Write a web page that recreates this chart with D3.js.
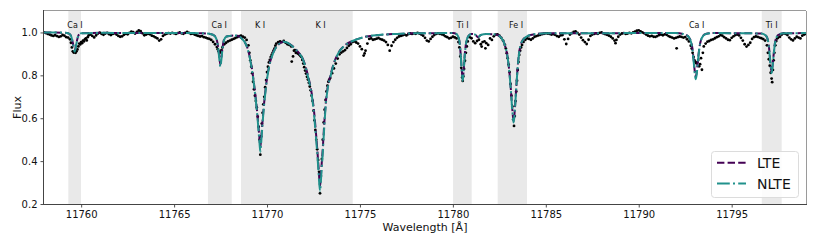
<!DOCTYPE html>
<html><head><meta charset="utf-8">
<script src="https://cdn.jsdelivr.net/npm/d3@7"></script>
<style>
body{margin:0;background:#fff;}
svg{display:block;font-family:"DejaVu Sans",sans-serif;}
</style></head>
<body><svg id="c" width="817" height="245"></svg>
<script>
// ---- data ----
const xTicks = [11760, 11765, 11770, 11775, 11780, 11785, 11790, 11795];
const yTicks = [0.2, 0.4, 0.6, 0.8, 1.0];
const spanStart = [11759.31, 11766.82, 11768.60, 11780.01, 11782.41, 11796.62];
const spanEnd   = [11759.99, 11768.10, 11774.61, 11781.01, 11783.99, 11797.69];
const lineLabels  = ["Ca I", "Ca I", "K I", "K I", "Ti I", "Fe I", "Ca I", "Ti I"];
const lineCenters = [11759.67, 11767.43, 11769.63, 11772.88, 11780.53, 11783.40, 11793.12, 11797.15];

const observed = [
[11758.0,1.000],[11758.1,0.997],[11758.2,0.993],[11758.3,0.990],[11758.4,0.986],[11758.5,0.984],[11758.6,0.987],[11758.7,0.983],[11758.8,0.979],[11758.9,0.982],
[11759.0,0.988],[11759.1,0.985],[11759.2,0.978],[11759.3,0.976],[11759.4,0.968],[11759.45,0.952],[11759.5,0.930],[11759.55,0.912],[11759.6,0.906],[11759.65,0.909],
[11759.7,0.905],[11759.75,0.912],[11759.8,0.921],[11759.85,0.935],[11759.9,0.948],[11759.95,0.944],[11760.0,0.955],[11760.05,0.950],[11760.1,0.962],[11760.15,0.958],
[11760.2,0.968],[11760.25,0.972],[11760.3,0.963],[11760.35,0.978],[11760.4,0.986],[11760.5,0.990],
[11760.6,0.984],[11760.7,0.977],[11760.8,0.986],[11760.9,0.995],[11761.0,0.999],[11761.1,0.993],[11761.2,0.989],[11761.3,0.995],[11761.4,0.998],[11761.5,0.992],
[11761.6,0.988],[11761.7,0.993],[11761.8,0.996],[11761.9,0.990],[11762.0,0.984],[11762.1,0.980],[11762.2,0.982],[11762.3,0.989],[11762.4,0.994],[11762.5,0.991],
[11762.6,0.998],[11762.7,1.004],[11762.8,1.001],[11762.9,0.995],[11763.0,1.003],[11763.1,1.009],[11763.2,1.006],[11763.3,0.996],[11763.4,0.987],[11763.5,0.990],
[11763.6,0.994],[11763.7,0.991],[11763.8,0.985],[11763.9,0.982],[11764.0,0.977],[11764.1,0.972],[11764.2,0.962],[11764.3,0.968],[11764.4,0.984],[11764.5,0.990],
[11764.6,0.994],[11764.7,0.997],[11764.8,0.995],[11764.9,0.998],[11765.0,0.996],[11765.1,0.993],[11765.2,0.997],[11765.3,1.000],[11765.4,0.996],[11765.5,0.994],
[11765.6,0.998],[11765.7,1.002],[11765.8,0.998],[11765.9,0.993],[11766.0,0.995],[11766.1,0.990],[11766.2,0.987],[11766.3,0.984],[11766.4,0.981],[11766.5,0.983],
[11766.6,0.978],[11766.7,0.976],[11766.8,0.972],[11766.9,0.970],[11767.0,0.965],[11767.1,0.956],[11767.2,0.945],[11767.3,0.932],[11767.35,0.922],[11767.4,0.912],
[11767.45,0.905],[11767.5,0.910],[11767.55,0.918],[11767.6,0.930],[11767.7,0.945],[11767.8,0.952],[11767.9,0.958],[11768.0,0.962],[11768.1,0.966],[11768.2,0.970],
[11768.3,0.974],[11768.4,0.978],[11768.5,0.983],[11768.6,0.985],[11768.7,0.980],[11768.8,0.976],[11768.9,0.965],
[11769.0,0.940],[11769.05,0.905],[11769.1,0.870],[11769.15,0.840],[11769.2,0.810],[11769.25,0.770],[11769.3,0.735],[11769.35,0.705],[11769.4,0.680],[11769.45,0.650],
[11769.5,0.607],[11769.55,0.560],[11769.6,0.500],[11769.64,0.430],[11769.68,0.515],[11769.72,0.575],[11769.76,0.625],[11769.8,0.665],[11769.85,0.700],[11769.9,0.745],
[11769.95,0.778],[11770.0,0.815],[11770.05,0.840],[11770.1,0.860],[11770.15,0.872],[11770.2,0.885],[11770.25,0.895],[11770.3,0.905],[11770.35,0.915],[11770.4,0.925],
[11770.45,0.938],[11770.5,0.948],[11770.6,0.955],[11770.7,0.958],[11770.8,0.955],[11770.9,0.960],[11771.0,0.952],[11771.1,0.945],[11771.2,0.942],[11771.3,0.935],
[11771.33,0.864],[11771.4,0.888],[11771.45,0.915],[11771.5,0.918],[11771.55,0.905],[11771.6,0.910],[11771.65,0.902],[11771.7,0.900],[11771.75,0.895],[11771.8,0.890],
[11771.85,0.886],[11771.9,0.872],[11771.95,0.855],[11772.0,0.838],[11772.05,0.822],[11772.1,0.808],[11772.15,0.793],[11772.2,0.780],[11772.25,0.765],[11772.3,0.748],
[11772.35,0.730],[11772.4,0.705],[11772.45,0.680],[11772.5,0.635],[11772.55,0.590],[11772.6,0.545],[11772.65,0.500],[11772.7,0.455],[11772.75,0.405],[11772.8,0.350],
[11772.85,0.250],[11772.9,0.330],[11772.95,0.410],[11773.0,0.500],[11773.05,0.580],[11773.1,0.640],[11773.15,0.685],[11773.2,0.725],[11773.25,0.752],[11773.3,0.770],
[11773.35,0.780],[11773.4,0.788],[11773.5,0.810],[11773.6,0.832],[11773.7,0.855],[11773.8,0.878],[11773.9,0.898],[11774.0,0.906],[11774.1,0.912],[11774.2,0.918],
[11774.3,0.928],[11774.4,0.938],[11774.5,0.945],[11774.6,0.955],[11774.7,0.958],[11774.8,0.953],[11774.9,0.948],[11775.0,0.935],[11775.1,0.922],[11775.2,0.892],
[11775.25,0.902],[11775.3,0.915],[11775.4,0.948],[11775.5,0.970],[11775.6,0.972],[11775.7,0.966],[11775.8,0.968],[11775.9,0.971],[11776.0,0.974],[11776.1,0.969],
[11776.2,0.966],[11776.3,0.962],[11776.4,0.955],[11776.5,0.942],[11776.6,0.915],[11776.7,0.938],[11776.8,0.955],[11776.9,0.966],[11777.0,0.975],[11777.1,0.981],
[11777.2,0.984],[11777.3,0.987],[11777.4,0.990],[11777.5,0.986],[11777.6,0.992],[11777.7,0.995],[11777.8,0.993],[11777.9,0.996],[11778.0,0.994],[11778.1,0.998],
[11778.2,0.995],[11778.3,0.990],[11778.4,0.985],[11778.5,0.975],[11778.6,0.962],[11778.7,0.958],[11778.8,0.970],[11778.9,0.980],[11779.0,0.988],[11779.1,0.993],
[11779.2,0.996],[11779.3,0.994],[11779.4,0.991],[11779.5,0.988],[11779.6,0.982],[11779.7,0.978],[11779.8,0.972],[11779.9,0.975],[11780.0,0.980],[11780.1,0.977],
[11780.2,0.972],[11780.3,0.955],[11780.35,0.930],[11780.4,0.888],[11780.45,0.835],[11780.5,0.790],[11780.53,0.774],[11780.56,0.795],[11780.6,0.830],[11780.65,0.868],
[11780.7,0.905],[11780.75,0.935],[11780.8,0.958],[11780.9,0.978],[11781.0,0.973],[11781.1,0.958],[11781.2,0.950],[11781.3,0.960],[11781.4,0.966],[11781.5,0.945],
[11781.55,0.934],[11781.6,0.955],[11781.7,0.958],[11781.75,0.926],[11781.8,0.950],[11781.9,0.942],[11782.0,0.972],[11782.1,0.965],[11782.2,0.982],[11782.3,0.990],
[11782.4,0.991],[11782.5,0.985],[11782.6,0.975],[11782.7,0.962],[11782.8,0.942],[11782.85,0.925],[11782.9,0.903],[11782.95,0.880],[11783.0,0.850],[11783.05,0.815],
[11783.1,0.760],[11783.15,0.705],[11783.2,0.655],[11783.25,0.595],[11783.29,0.564],[11783.33,0.610],[11783.37,0.680],[11783.41,0.725],[11783.45,0.775],[11783.49,0.825],
[11783.53,0.862],[11783.57,0.895],[11783.62,0.915],[11783.67,0.930],[11783.72,0.942],[11783.8,0.956],[11783.9,0.966],[11784.0,0.972],[11784.1,0.970],[11784.2,0.966],
[11784.3,0.972],[11784.4,0.980],[11784.5,0.983],[11784.6,0.986],[11784.7,0.989],[11784.8,0.992],[11784.9,0.994],[11785.0,0.996],[11785.1,0.995],[11785.2,0.993],
[11785.3,0.990],[11785.4,0.992],[11785.5,0.989],[11785.6,0.983],[11785.7,0.980],[11785.8,0.986],[11785.9,0.988],[11786.0,0.968],[11786.1,0.946],[11786.2,0.970],
[11786.3,0.990],[11786.4,0.997],[11786.5,1.003],[11786.6,1.005],[11786.7,0.998],[11786.8,0.990],[11786.9,0.976],[11787.0,0.964],[11787.1,0.955],[11787.2,0.946],
[11787.3,0.966],[11787.4,0.984],[11787.5,0.990],[11787.6,0.993],[11787.7,0.996],[11787.8,0.994],[11787.9,0.998],[11788.0,1.000],[11788.1,0.996],[11788.2,0.992],
[11788.3,0.989],[11788.4,0.985],[11788.5,0.980],[11788.6,0.972],[11788.7,0.962],[11788.75,0.950],[11788.8,0.965],[11788.9,0.980],[11789.0,0.990],[11789.1,0.995],
[11789.2,0.997],[11789.3,0.993],[11789.4,0.995],[11789.5,0.998],[11789.6,0.996],[11789.7,1.000],[11789.8,1.004],[11789.9,1.008],[11790.0,1.010],[11790.1,1.005],
[11790.2,1.000],[11790.3,0.996],[11790.4,0.990],[11790.5,0.985],[11790.6,0.982],[11790.7,0.984],[11790.8,0.980],[11790.9,0.979],[11791.0,0.983],[11791.1,0.988],
[11791.2,0.990],[11791.3,0.987],[11791.4,0.991],[11791.5,0.989],[11791.6,0.983],[11791.7,0.979],[11791.8,0.976],[11791.9,0.972],[11792.0,0.975],[11792.04,0.926],
[11792.1,0.978],[11792.2,0.981],[11792.3,0.979],[11792.4,0.976],[11792.5,0.978],[11792.6,0.968],[11792.7,0.958],[11792.8,0.938],[11792.85,0.925],[11792.9,0.905],
[11792.95,0.885],[11793.0,0.870],[11793.05,0.862],[11793.1,0.856],[11793.15,0.860],[11793.2,0.872],[11793.25,0.842],[11793.3,0.852],[11793.35,0.880],[11793.4,0.826],
[11793.45,0.905],[11793.5,0.935],[11793.6,0.948],[11793.7,0.957],[11793.8,0.960],[11793.9,0.965],[11794.0,0.968],[11794.1,0.973],[11794.2,0.978],[11794.3,0.982],
[11794.4,0.988],[11794.5,0.985],[11794.6,0.978],[11794.7,0.972],[11794.8,0.966],[11794.9,0.964],[11795.0,0.975],[11795.1,0.982],[11795.2,0.988],[11795.3,0.990],
[11795.4,0.986],[11795.5,0.975],[11795.6,0.962],[11795.7,0.945],[11795.8,0.934],[11795.9,0.942],[11796.0,0.952],[11796.1,0.970],[11796.2,0.978],[11796.3,0.981],
[11796.4,0.979],[11796.5,0.976],[11796.6,0.973],[11796.7,0.969],[11796.8,0.962],[11796.9,0.940],[11796.95,0.905],[11797.0,0.875],[11797.05,0.845],[11797.1,0.812],
[11797.15,0.785],[11797.18,0.768],[11797.22,0.825],[11797.26,0.870],[11797.3,0.905],[11797.35,0.940],[11797.4,0.960],[11797.45,0.972],[11797.5,0.976],[11797.6,0.980],
[11797.7,0.990],[11797.8,0.996],[11797.9,0.993],[11798.0,0.988],[11798.1,0.976],[11798.2,0.968],[11798.3,0.963],[11798.4,0.972],[11798.5,0.980],[11798.6,0.976],
[11798.7,0.972],[11798.8,0.985],[11798.9,0.990],[11799.0,0.993]
];

const nlte = [
[11758.0,1.000],[11759.0,0.999],[11759.3,0.996],[11759.45,0.985],[11759.55,0.950],[11759.65,0.910],[11759.75,0.950],[11759.85,0.985],[11760.0,0.996],[11761.0,0.998],
[11766.0,0.997],[11766.5,0.996],[11767.0,0.992],[11767.2,0.982],[11767.3,0.962],[11767.38,0.920],[11767.44,0.870],[11767.49,0.840],[11767.54,0.870],[11767.6,0.920],
[11767.68,0.962],[11767.8,0.980],[11768.0,0.984],[11768.3,0.986],[11768.6,0.975],[11768.8,0.955],[11768.95,0.925],[11769.1,0.870],[11769.2,0.820],[11769.3,0.755],
[11769.4,0.680],[11769.48,0.610],[11769.55,0.535],[11769.6,0.480],[11769.64,0.444],[11769.68,0.480],[11769.73,0.540],[11769.8,0.620],[11769.88,0.695],[11769.98,0.770],
[11770.1,0.835],[11770.25,0.885],[11770.45,0.925],[11770.7,0.950],[11770.9,0.957],[11771.1,0.952],[11771.3,0.940],[11771.5,0.925],[11771.7,0.905],[11771.9,0.880],
[11772.05,0.845],[11772.2,0.795],[11772.35,0.735],[11772.45,0.680],[11772.55,0.600],[11772.62,0.525],[11772.7,0.440],[11772.77,0.350],[11772.85,0.260],[11772.93,0.350],
[11773.0,0.440],[11773.08,0.560],[11773.15,0.650],[11773.25,0.730],[11773.4,0.790],[11773.6,0.855],[11773.85,0.905],[11774.2,0.940],[11774.6,0.960],[11775.2,0.978],
[11776.0,0.988],[11777.0,0.993],[11778.0,0.996],[11780.0,0.997],[11780.2,0.992],[11780.35,0.960],[11780.42,0.895],[11780.48,0.820],[11780.53,0.774],[11780.58,0.820],
[11780.64,0.895],[11780.72,0.955],[11780.85,0.985],[11781.0,0.993],[11781.2,0.990],[11781.35,0.978],[11781.5,0.988],[11781.8,0.993],[11782.3,0.990],[11782.55,0.980],
[11782.8,0.940],[11782.95,0.880],[11783.05,0.805],[11783.12,0.730],[11783.19,0.645],[11783.27,0.580],[11783.34,0.645],[11783.41,0.740],[11783.48,0.830],[11783.56,0.900],
[11783.7,0.955],[11783.95,0.980],[11784.4,0.992],[11785.0,0.996],[11792.0,0.997],[11792.5,0.990],[11792.75,0.970],[11792.88,0.925],[11792.96,0.860],[11793.02,0.805],
[11793.07,0.782],[11793.12,0.805],[11793.18,0.860],[11793.27,0.930],[11793.4,0.975],[11793.6,0.993],[11794.0,0.997],[11796.6,0.995],[11796.85,0.985],[11796.98,0.950],
[11797.05,0.890],[11797.1,0.840],[11797.15,0.810],[11797.2,0.840],[11797.26,0.895],[11797.34,0.955],[11797.5,0.988],[11797.8,0.996],[11799.0,0.997]
];

const lte = [
[11758.0,1.000],[11759.0,0.999],[11759.3,0.996],[11759.45,0.986],[11759.55,0.952],[11759.65,0.915],[11759.75,0.952],[11759.85,0.986],[11760.0,0.996],[11761.0,0.998],
[11766.0,0.997],[11766.5,0.996],[11767.0,0.992],[11767.2,0.983],[11767.3,0.965],[11767.38,0.925],[11767.44,0.880],[11767.49,0.852],[11767.54,0.880],[11767.6,0.925],
[11767.68,0.965],[11767.8,0.980],[11768.0,0.984],[11768.3,0.986],[11768.6,0.975],[11768.8,0.956],[11768.95,0.927],[11769.1,0.873],[11769.2,0.824],[11769.3,0.760],
[11769.4,0.688],[11769.48,0.620],[11769.55,0.550],[11769.6,0.500],[11769.64,0.465],[11769.68,0.500],[11769.73,0.555],[11769.8,0.630],[11769.88,0.702],[11769.98,0.775],
[11770.1,0.838],[11770.25,0.887],[11770.45,0.926],[11770.7,0.950],[11770.9,0.957],[11771.1,0.952],[11771.3,0.941],[11771.5,0.926],[11771.7,0.906],[11771.9,0.882],
[11772.05,0.848],[11772.2,0.800],[11772.35,0.742],[11772.45,0.690],[11772.55,0.615],[11772.62,0.545],[11772.7,0.460],[11772.77,0.375],[11772.85,0.285],[11772.93,0.375],
[11773.0,0.460],[11773.08,0.575],[11773.15,0.660],[11773.25,0.737],[11773.4,0.795],[11773.6,0.858],[11773.85,0.906],[11774.2,0.941],[11774.6,0.960],[11775.2,0.978],
[11776.0,0.988],[11777.0,0.993],[11778.0,0.996],[11780.0,0.997],[11780.2,0.992],[11780.35,0.960],[11780.42,0.897],[11780.48,0.824],[11780.53,0.780],[11780.58,0.824],
[11780.64,0.897],[11780.72,0.955],[11780.85,0.985],[11781.0,0.993],[11781.2,0.990],[11781.35,0.978],[11781.5,0.988],[11781.8,0.993],[11782.3,0.990],[11782.55,0.980],
[11782.8,0.940],[11782.95,0.881],[11783.05,0.807],[11783.12,0.733],[11783.19,0.650],[11783.27,0.586],[11783.34,0.650],[11783.41,0.743],[11783.48,0.832],[11783.56,0.901],
[11783.7,0.955],[11783.95,0.980],[11784.4,0.992],[11785.0,0.996],[11792.0,0.997],[11792.5,0.990],[11792.75,0.971],[11792.88,0.930],[11792.96,0.868],[11793.02,0.815],
[11793.07,0.795],[11793.12,0.815],[11793.18,0.868],[11793.27,0.933],[11793.4,0.976],[11793.6,0.993],[11794.0,0.997],[11796.6,0.995],[11796.85,0.985],[11796.98,0.951],
[11797.05,0.893],[11797.1,0.845],[11797.15,0.816],[11797.2,0.845],[11797.26,0.898],[11797.34,0.956],[11797.5,0.988],[11797.8,0.996],[11799.0,0.997]
];

const seriesNames = ["LTE", "NLTE"];
const seriesColors = ["#440154", "#21918c"];

// ---- layout ----
const W = 817, H = 245;
const m = {left: 44, top: 11, right: 11, bottom: 41};
const svg = d3.select("#c");
const x = d3.scaleLinear().domain([11758, 11799]).range([m.left, W - m.right]);
const y = d3.scaleLinear().domain([0.2, 1.1]).range([H - m.bottom, m.top]);

svg.append("defs").append("clipPath").attr("id", "clip")
  .append("rect").attr("x", m.left).attr("y", m.top)
  .attr("width", W - m.left - m.right).attr("height", H - m.top - m.bottom);

const plot = svg.append("g").attr("clip-path", "url(#clip)");

// shaded line regions
plot.selectAll("rect.span").data(spanStart).enter().append("rect")
  .attr("class", "span")
  .attr("x", (d) => x(d))
  .attr("width", (d, i) => x(spanEnd[i]) - x(d))
  .attr("y", m.top).attr("height", H - m.top - m.bottom)
  .attr("fill", "#e9e9e9");

// observed points
plot.selectAll("circle.obs").data(observed).enter().append("circle")
  .attr("class", "obs")
  .attr("cx", (d) => x(d[0])).attr("cy", (d) => y(d[1]))
  .attr("r", 1.4).attr("fill", "#000");

const line = d3.line().x((d) => x(d[0])).y((d) => y(d[1])).curve(d3.curveMonotoneX);

plot.append("path").datum(lte).attr("d", line)
  .attr("fill", "none").attr("stroke", seriesColors[0]).attr("stroke-width", 2)
  .attr("stroke-dasharray", "7.4,3.2");
plot.append("path").datum(nlte).attr("d", line)
  .attr("fill", "none").attr("stroke", seriesColors[1]).attr("stroke-width", 2)
  .attr("stroke-dasharray", "12.8,3.2,2,3.2");

// line labels
svg.selectAll("text.lbl").data(lineLabels).enter().append("text")
  .attr("class", "lbl")
  .attr("x", (d, i) => x(lineCenters[i])).attr("y", 27.5)
  .attr("text-anchor", "middle").attr("font-size", 8).attr("fill", "#111")
  .text((d) => d);

// axes
const xAxis = d3.axisBottom(x).tickValues(xTicks).tickFormat(d3.format("d")).tickSize(3.5).tickPadding(3);
const yAxis = d3.axisLeft(y).tickValues(yTicks).tickFormat(d3.format(".1f")).tickSize(3.5).tickPadding(3);

const gx = svg.append("g").attr("transform", `translate(0,${H - m.bottom})`).call(xAxis);
const gy = svg.append("g").attr("transform", `translate(${m.left},0)`).call(yAxis);
[gx, gy].forEach((g) => {
  g.select(".domain").remove();
  g.selectAll(".tick line").attr("stroke", "#222").attr("stroke-width", 0.8);
  g.selectAll(".tick text").attr("font-size", 10).attr("fill", "#111")
    .attr("font-family", "DejaVu Sans, sans-serif");
});

// frame
svg.append("line").attr("x1", m.left).attr("x2", W - m.right).attr("y1", m.top - 0.5).attr("y2", m.top - 0.5).attr("stroke", "#9a9a9a").attr("stroke-width", 1);
svg.append("line").attr("x1", W - m.right + 0.5).attr("x2", W - m.right + 0.5).attr("y1", m.top).attr("y2", H - m.bottom).attr("stroke", "#9a9a9a").attr("stroke-width", 1);
svg.append("line").attr("x1", m.left - 0.5).attr("x2", m.left - 0.5).attr("y1", m.top - 1).attr("y2", H - m.bottom + 0.5).attr("stroke", "#444").attr("stroke-width", 1);
svg.append("line").attr("x1", m.left - 1).attr("x2", W - m.right + 1).attr("y1", H - m.bottom + 0.5).attr("y2", H - m.bottom + 0.5).attr("stroke", "#444").attr("stroke-width", 1);

// axis titles
svg.append("text").attr("x", (m.left + W - m.right) / 2).attr("y", 230.5)
  .attr("text-anchor", "middle").attr("font-size", 11).attr("fill", "#111")
  .text("Wavelength [Å]");
svg.append("text").attr("transform", `translate(20.5,${(m.top + H - m.bottom) / 2}) rotate(-90)`)
  .attr("text-anchor", "middle").attr("font-size", 11).attr("fill", "#111")
  .text("Flux");

// legend
const lg = svg.append("g");
lg.append("rect").attr("x", 711.5).attr("y", 151.5).attr("width", 87).attr("height", 46)
  .attr("rx", 3).attr("fill", "#fff").attr("fill-opacity", 0.85)
  .attr("stroke", "#dcdcdc").attr("stroke-width", 1);
const dashes = ["7.4,3.2", "12.8,3.2,2,3.2"];
seriesNames.forEach((n, i) => {
  const yy = 162.7 + i * 20.7;
  lg.append("line").attr("x1", 717).attr("x2", 746).attr("y1", yy).attr("y2", yy)
    .attr("stroke", seriesColors[i]).attr("stroke-width", 2).attr("stroke-dasharray", dashes[i]);
  lg.append("text").attr("x", 757).attr("y", yy + 5.1).attr("font-size", 14).attr("fill", "#111").text(n);
});
</script></body></html>
